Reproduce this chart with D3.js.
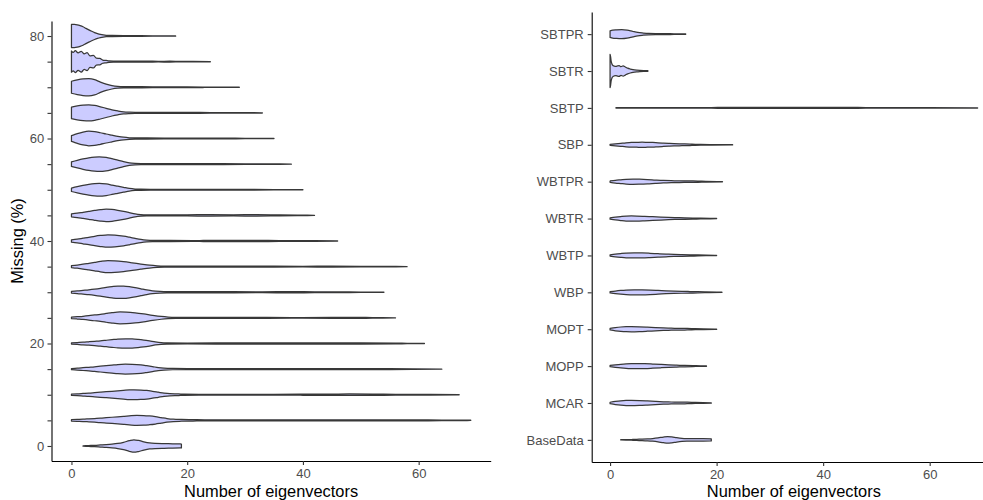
<!DOCTYPE html>
<html>
<head>
<meta charset="utf-8">
<script src="https://cdn.jsdelivr.net/npm/d3@7/dist/d3.min.js"></script>
<style>
  html, body { margin: 0; padding: 0; background: #ffffff; }
  svg { display: block; }
  text { font-family: "Liberation Sans", Arial, sans-serif; }
</style>
</head>
<body>
<svg id="chart" width="983" height="500"></svg>
<script>
// Missing-data levels (left panel) and imputation methods (right panel)
const missingLevels = [0, 5, 10, 15, 20, 25, 30, 35, 40, 45, 50, 55, 60, 65, 70, 75, 80];
const methods = ["BaseData", "MCAR", "MOPP", "MOPT", "WBP", "WBTP", "WBTR", "WBTPR", "SBP", "SBTP", "SBTR", "SBTPR"];
const yTicksLeft = [0, 5, 10, 15, 20, 25, 30, 35, 40, 45, 50, 55, 60, 65, 70, 75, 80];
const yLabelsLeft = [0, 20, 40, 60, 80];
const xTicks = [0, 20, 40, 60];

// Kernel density profiles: [number of eigenvectors, density]
const m0  = [[2,0.02],[3,0.04],[4,0.06],[5,0.09],[6,0.12],[7,0.16],[8,0.22],[9,0.32],[10,0.46],[10.8,0.54],[11.6,0.48],[12.5,0.36],[13.5,0.26],[14.5,0.22],[16,0.2],[17.5,0.19],[19,0.17]];
const m5  = [[0,0.06],[1,0.08],[2,0.1],[3,0.13],[4,0.16],[5,0.19],[6,0.23],[7,0.27],[8,0.31],[9,0.35],[10,0.39],[11.3,0.43],[12.5,0.42],[13.5,0.38],[14.5,0.32],[15.5,0.24],[16.5,0.16],[17.6,0.1],[19,0.075],[21,0.06],[23,0.045],[27,0.04],[31,0.04],[36,0.045],[40,0.05],[45,0.05],[50,0.045],[55,0.04],[60,0.04],[64,0.03],[69,0.01]];
const m10 = [[0,0.06],[1,0.08],[2,0.11],[3,0.14],[4,0.18],[5,0.22],[6,0.26],[7,0.3],[8,0.34],[9,0.38],[10,0.42],[10.8,0.43],[12,0.41],[13,0.37],[14,0.3],[15,0.22],[16,0.14],[17,0.09],[18.5,0.07],[19.5,0.05],[22,0.04],[26,0.04],[30,0.035],[35,0.04],[40,0.045],[44,0.06],[48,0.065],[52,0.05],[56,0.04],[62,0.03],[67,0.01]];
const m15 = [[0,0.05],[1,0.08],[2,0.12],[3,0.16],[4,0.2],[5,0.25],[6,0.3],[7,0.35],[8,0.4],[9.3,0.43],[10.5,0.42],[12,0.37],[13,0.3],[14,0.22],[15,0.13],[16,0.08],[17.5,0.055],[20,0.045],[25,0.04],[30,0.05],[35,0.04],[40,0.05],[45,0.045],[50,0.05],[55,0.04],[59,0.03],[64,0.01]];
const m20 = [[0,0.05],[1,0.08],[2,0.11],[3,0.15],[4,0.19],[5,0.23],[6,0.28],[7,0.33],[8,0.38],[9.4,0.41],[10.5,0.4],[11.5,0.36],[12.5,0.3],[13.5,0.22],[14.5,0.13],[15.5,0.07],[16.5,0.05],[20,0.04],[25,0.045],[30,0.05],[35,0.05],[40,0.05],[45,0.05],[50,0.05],[56,0.04],[58,0.02],[61,0.01]];
const m25 = [[0,0.06],[1,0.1],[2,0.14],[3,0.19],[4,0.25],[5,0.31],[6,0.38],[7,0.45],[8.4,0.51],[9.5,0.5],[11,0.44],[12.5,0.34],[14,0.22],[15.5,0.12],[16.7,0.07],[18,0.05],[22,0.045],[27,0.04],[32,0.035],[38,0.03],[45,0.035],[49,0.05],[52,0.03],[56,0.01]];
const m30 = [[0,0.07],[1,0.11],[2,0.16],[3,0.21],[4,0.27],[5,0.34],[6,0.42],[7,0.49],[8,0.54],[9,0.53],[10,0.48],[11,0.4],[12,0.3],[13,0.2],[14,0.12],[15.3,0.07],[16.5,0.05],[20,0.05],[24,0.06],[28,0.045],[33,0.04],[38,0.05],[42,0.04],[46,0.03],[50,0.02],[54,0.01]];
const m35 = [[0,0.08],[1,0.14],[2,0.21],[3,0.29],[4,0.37],[5,0.45],[6.3,0.52],[7.5,0.5],[9,0.43],[10.5,0.33],[12,0.22],[13.5,0.12],[14.8,0.07],[16,0.05],[20,0.045],[25,0.04],[30,0.04],[35,0.035],[40,0.03],[45,0.04],[50,0.025],[54,0.02],[58,0.01]];
const m40 = [[0,0.1],[1,0.16],[2,0.24],[3,0.32],[4,0.41],[5,0.48],[6.3,0.54],[7.5,0.51],[9,0.42],[10,0.33],[11,0.23],[12,0.14],[13,0.08],[14,0.05],[17,0.045],[21,0.04],[26,0.06],[30,0.065],[34,0.05],[38,0.035],[42,0.025],[46,0.01]];
const m45 = [[0,0.12],[1,0.19],[2,0.27],[3,0.35],[4,0.43],[5,0.5],[6,0.54],[7,0.51],[8,0.44],[9,0.35],[10,0.24],[11,0.13],[12,0.07],[13,0.05],[16,0.04],[20,0.05],[24,0.06],[28,0.05],[32,0.06],[36,0.04],[39,0.03],[42,0.01]];
const m50 = [[0,0.15],[1,0.27],[2,0.38],[3,0.47],[4,0.53],[4.8,0.55],[6,0.5],[7,0.41],[8,0.31],[9,0.21],[10,0.11],[11,0.06],[12,0.045],[15,0.04],[20,0.04],[25,0.035],[30,0.03],[35,0.02],[40,0.01]];
const m55 = [[0,0.2],[1,0.33],[2,0.45],[3,0.55],[4,0.61],[4.8,0.63],[6,0.58],[7,0.47],[8,0.34],[9,0.21],[10,0.11],[11,0.065],[12,0.05],[15,0.045],[19,0.04],[24,0.035],[30,0.03],[34,0.02],[38,0.01]];
const m60 = [[0,0.25],[0.5,0.33],[1,0.42],[2,0.56],[3,0.63],[4,0.6],[5,0.5],[6,0.39],[7,0.29],[8,0.19],[9,0.11],[10,0.065],[11,0.05],[13,0.045],[16,0.04],[20,0.035],[25,0.03],[30,0.02],[35,0.01]];
const m65 = [[0,0.5],[1,0.6],[2,0.67],[3,0.7],[4,0.65],[5,0.53],[6,0.4],[7,0.27],[8,0.17],[9,0.09],[10,0.06],[11,0.05],[13,0.045],[16,0.04],[20,0.04],[24,0.03],[28,0.02],[33,0.01]];
const m70 = [[0,0.52],[1,0.64],[2,0.72],[3,0.74],[4,0.66],[5,0.45],[6,0.27],[7,0.15],[8,0.08],[9,0.055],[10,0.05],[12,0.045],[14,0.04],[17,0.04],[20,0.03],[23,0.02],[26,0.015],[29,0.01]];
const m75 = [[0,0.92],[0.3,0.8],[0.65,0.95],[1.15,0.76],[1.7,0.9],[2.2,0.68],[2.7,0.78],[3.2,0.5],[3.8,0.55],[4.3,0.3],[4.9,0.28],[5.4,0.14],[6,0.1],[6.5,0.06],[7.5,0.05],[9,0.04],[11,0.035],[13,0.04],[15,0.03],[17,0.035],[19,0.02],[21,0.02],[24,0.01]];
const m80 = [[0,1],[0.5,1],[1,0.97],[1.5,0.9],[2,0.8],[2.5,0.66],[3,0.53],[3.5,0.41],[4,0.3],[4.5,0.21],[5,0.14],[5.5,0.09],[6,0.06],[7,0.045],[9,0.04],[11,0.04],[12,0.03],[14,0.02],[16,0.015],[18,0.01]];

const mcar  = [[0,0.12],[1,0.25],[2,0.35],[3,0.41],[4,0.42],[5.5,0.39],[7,0.33],[8.5,0.26],[10,0.2],[11.5,0.16],[13,0.14],[14.5,0.12],[16,0.08],[17.5,0.045],[19,0.027]];
const mopp  = [[0,0.1],[1,0.2],[2,0.29],[3,0.36],[4,0.4],[5,0.42],[6.5,0.4],[8,0.34],[9.5,0.27],[11,0.2],[12.5,0.15],[14,0.12],[15.5,0.08],[17,0.045],[18.1,0.027]];
const mopt  = [[0,0.12],[1,0.26],[2,0.36],[3,0.41],[4,0.42],[5.5,0.39],[7,0.33],[8.5,0.26],[10,0.2],[11.5,0.16],[13,0.14],[14.5,0.12],[16,0.08],[17.5,0.05],[20,0.027]];
const wbp   = [[0,0.1],[1,0.21],[2,0.3],[3,0.37],[4.5,0.41],[6,0.4],[7.5,0.36],[9,0.3],[10.5,0.23],[12,0.18],[13.5,0.15],[15,0.13],[16.5,0.1],[18,0.06],[21,0.027]];
const wbtp  = [[0,0.1],[1,0.22],[2,0.31],[3,0.38],[4.5,0.41],[6,0.4],[7.5,0.35],[9,0.28],[10.5,0.22],[12,0.17],[13.5,0.14],[15,0.11],[16.5,0.08],[18,0.05],[20,0.027]];
const wbtr  = [[0,0.1],[1,0.22],[2,0.32],[3,0.4],[4,0.42],[5,0.41],[6.5,0.36],[8,0.3],[9.5,0.24],[11,0.18],[12.5,0.14],[14,0.12],[15.5,0.09],[17,0.06],[20,0.027]];
const wbtpr = [[0,0.11],[1,0.22],[2,0.3],[3,0.38],[4.3,0.42],[5.5,0.4],[7,0.35],[8.5,0.27],[10,0.2],[11.5,0.16],[13,0.135],[15,0.12],[16.5,0.095],[18,0.055],[21.1,0.027]];
const sbp   = [[0,0.08],[1,0.16],[2,0.24],[3,0.32],[4,0.38],[5,0.4],[6,0.42],[7,0.4],[8,0.38],[9,0.32],[10,0.27],[11,0.23],[12,0.19],[13,0.16],[14,0.15],[15,0.12],[16,0.08],[17,0.055],[19,0.04],[23,0.027]];
const sbtp  = [[1.1,0.027],[4,0.032],[8,0.04],[14,0.04],[19,0.055],[22,0.08],[30,0.08],[38,0.08],[45,0.08],[48,0.055],[52,0.055],[56,0.04],[60,0.027],[69,0.022]];
const sbtr  = [[0,2.7],[0.1,2.3],[0.2,1.6],[0.35,1.15],[0.55,0.9],[0.8,0.8],[1.1,0.75],[1.4,0.82],[1.7,0.86],[2.05,0.72],[2.45,0.82],[2.85,0.66],[3.3,0.46],[3.8,0.32],[4.3,0.22],[5,0.14],[5.6,0.1],[6.3,0.07],[7.1,0.05]];
const sbtpr = [[0,0.54],[0.5,0.65],[1.2,0.7],[2.2,0.73],[3.2,0.65],[4.3,0.43],[5.2,0.27],[6.2,0.18],[7.2,0.12],[9,0.095],[10.5,0.08],[12,0.055],[14.2,0.027]];

const leftProfiles = [m0, m5, m10, m15, m20, m25, m30, m35, m40, m45, m50, m55, m60, m65, m70, m75, m80];
const rightProfiles = [m0, mcar, mopp, mopt, wbp, wbtp, wbtr, wbtpr, sbp, sbtp, sbtr, sbtpr];

const FILL = "#ccccff", OUTLINE = "#383838";
const svg = d3.select("#chart");
svg.append("rect").attr("width", 983).attr("height", 500).attr("fill", "#ffffff");

function styleAxis(g) {
  g.selectAll(".domain").attr("stroke", "#000").attr("stroke-width", 1.1);
  g.selectAll(".tick line").attr("stroke", "#333").attr("stroke-width", 1.1);
  g.selectAll(".tick text").attr("fill", "#4d4d4d").style("font-size", "13px")
    .style("font-family", "'Liberation Sans', Arial, sans-serif");
}

// Each violin is scaled so the densest violin in its panel fills 90% of the slot
function drawViolins(g, profiles, keys, x, yPos, halfMax) {
  const dMax = d3.max(profiles, p => d3.max(p, d => d[1]));
  const k = halfMax / dMax;
  profiles.forEach((p, i) => {
    const cy = yPos(keys[i]);
    const area = d3.area()
      .x(d => x(d[0]))
      .y0(d => cy - d[1] * k)
      .y1(d => cy + d[1] * k)
      .curve(d3.curveMonotoneX);
    g.append("path").attr("d", area(p))
      .attr("fill", FILL).attr("stroke", OUTLINE)
      .attr("stroke-width", 1.25).attr("stroke-linejoin", "round");
  });
}

// ---- Left panel: violins by percentage missing ----
const xL = d3.scaleLinear().domain([-3.45, 72.45]).range([51.5, 490.7]);
const yL = d3.scaleLinear().domain([-2.93, 82.93]).range([461, 21]);
const left = svg.append("g");
drawViolins(left, leftProfiles, missingLevels, xL, yL, 0.45 * (yL(0) - yL(5)));

left.append("g").attr("transform", `translate(0,${yL.range()[0]})`)
  .call(d3.axisBottom(xL).tickValues(xTicks).tickSize(4).tickSizeOuter(0).tickPadding(4))
  .call(styleAxis);
left.append("g").attr("transform", `translate(${xL.range()[0]},0)`)
  .call(d3.axisLeft(yL).tickValues(yTicksLeft)
    .tickFormat(d => yLabelsLeft.includes(d) ? d : "")
    .tickSize(4).tickSizeOuter(0).tickPadding(3.2))
  .call(styleAxis);

svg.append("text").attr("x", (xL.range()[0] + xL.range()[1]) / 2).attr("y", 497)
  .attr("text-anchor", "middle").style("font-size", "16.4px").attr("fill", "#000")
  .text("Number of eigenvectors");
svg.append("text")
  .attr("transform", `translate(23,${(yL.range()[0] + yL.range()[1]) / 2}) rotate(-90)`)
  .attr("text-anchor", "middle").style("font-size", "16.4px").attr("fill", "#000")
  .text("Missing (%)");

// ---- Right panel: violins by imputation method ----
const xR = d3.scaleLinear().domain([-3.45, 72.45]).range([591.7, 996]);
const yR = d3.scalePoint().domain(methods).range([462, 12]).padding(0.6);
const right = svg.append("g");
drawViolins(right, rightProfiles, methods, xR, yR, 0.45 * yR.step());

right.append("g").attr("transform", `translate(0,${yR.range()[0]})`)
  .call(d3.axisBottom(xR).tickValues(xTicks).tickSize(4).tickSizeOuter(0).tickPadding(4))
  .call(styleAxis);
right.append("g").attr("transform", `translate(${xR.range()[0]},0)`)
  .call(d3.axisLeft(yR).tickSize(4).tickSizeOuter(0).tickPadding(4))
  .call(styleAxis);

svg.append("text").attr("x", (xR.range()[0] + xR.range()[1]) / 2).attr("y", 497)
  .attr("text-anchor", "middle").style("font-size", "16.4px").attr("fill", "#000")
  .text("Number of eigenvectors");
</script>
</body>
</html>
